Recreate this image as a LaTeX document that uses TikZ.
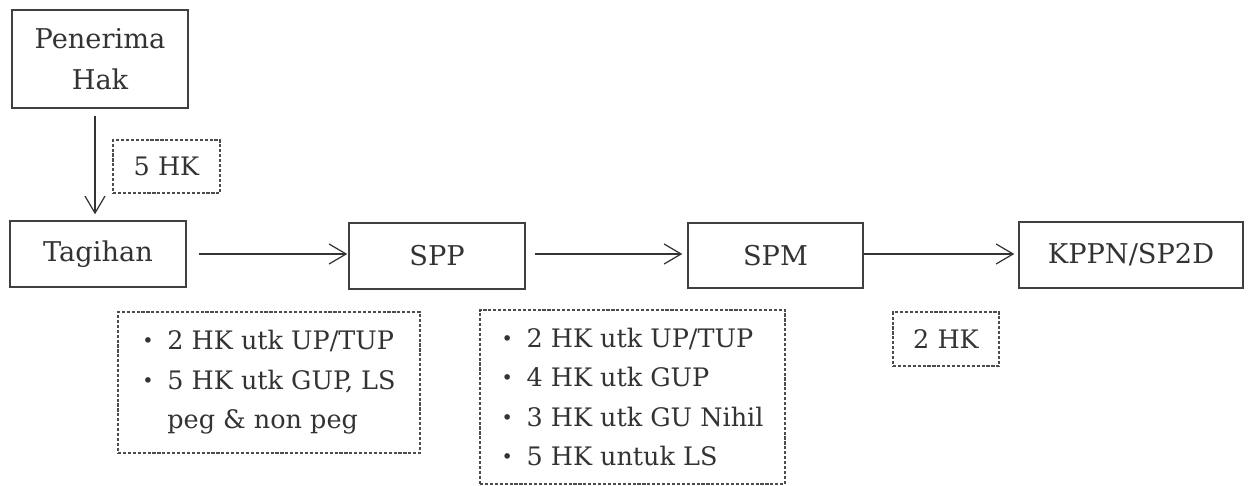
\documentclass[tikz,border=0pt]{standalone}
\usepackage{fontspec}
\setmainfont{DejaVu Serif}
\usetikzlibrary{arrows.meta}

\newcommand{\butir}{\makebox[5mm][l]{\raisebox{0.15ex}{\scalebox{0.75}{\textbullet}}}}

\begin{document}
\begin{tikzpicture}[x=0.2mm,y=-0.2mm]

% Define styles
\tikzstyle{kotak}=[draw=black!75, line width=0.8pt, inner sep=0pt, align=center, text=black!80, font=\fontsize{15.5}{23}\selectfont]
\tikzstyle{catatan}=[draw=black!70, line width=0.6pt, dash pattern=on 1.8pt off 1pt, inner sep=0pt, align=left, text=black!80, font=\fontsize{14.5}{22.5}\selectfont]
\tikzstyle{panah}=[black!80, line width=0.7pt, -{Straight Barb[length=3.4mm,width=4mm]}]

\useasboundingbox (0,0) rectangle (1251,486);

% Process boxes
\node[kotak, minimum width=35.2mm, minimum height=19.6mm] (hak) at (100,59) {Penerima\\Hak};
\node[kotak, minimum width=35.2mm, minimum height=13.2mm] (tagihan) at (98,254) {Tagihan};
\node[kotak, minimum width=35.2mm, minimum height=13.2mm] (spp) at (437,256) {SPP};
\node[kotak, minimum width=35mm, minimum height=13mm] (spm) at (775.5,255.5) {SPM};
\node[kotak, minimum width=44.8mm, minimum height=13.2mm] (kppn) at (1131,255) {KPPN/SP2D};

% Time notes
\node[catatan, minimum width=21.4mm, minimum height=10.6mm, align=center] (lima) at (166.5,166.5) {5 HK};
\node[catatan, minimum width=21.2mm, minimum height=10.8mm, align=center] (dua) at (946,339) {2 HK};
\node[catatan, minimum width=60.4mm, minimum height=28.2mm] (ket1) at (269,382.5)
  {\butir 2 HK utk UP/TUP\\ \butir 5 HK utk GUP, LS\\ \hspace*{5mm}peg \& non peg};
\node[catatan, minimum width=61mm, minimum height=34.8mm] (ket2) at (632.5,397)
  {\butir 2 HK utk UP/TUP\\ \butir 4 HK utk GUP\\ \butir 3 HK utk GU Nihil\\ \butir 5 HK untuk LS};

% Flow arrows
\draw[panah, shorten <=1.4mm, shorten >=1.2mm] ([xshift=-1mm]hak.south) -- ([xshift=-1mm]hak.south |- tagihan.north);
\draw[panah, shorten <=2.4mm, shorten >=0.2mm] (tagihan.east) -- (spp.west |- tagihan.east);
\draw[panah, shorten <=1.8mm, shorten >=1mm] (spp.east |- tagihan.east) -- (spm.west |- tagihan.east);
\draw[panah, shorten >=0.8mm] (spm.east |- tagihan.east) -- (kppn.west |- tagihan.east);

\end{tikzpicture}
\end{document}
